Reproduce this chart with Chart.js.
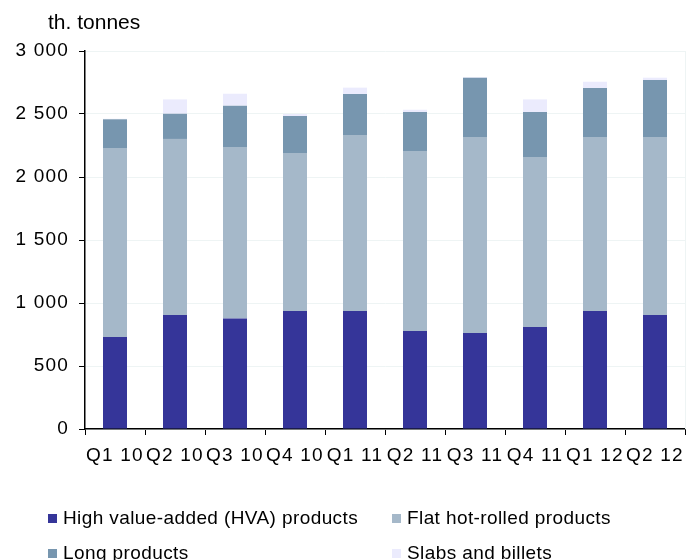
<!DOCTYPE html>
<html>
<head>
<meta charset="utf-8">
<script src="https://cdn.jsdelivr.net/npm/chart.js@4"></script>
<style>
  html, body { margin: 0; padding: 0; background: #fff; }
  #wrap { width: 689px; height: 560px; position: relative; }
</style>
</head>
<body>
<div id="wrap"><canvas id="c" width="689" height="560"></canvas></div>
<script>
const categories = ["Q1 10", "Q2 10", "Q3 10", "Q4 10", "Q1 11", "Q2 11", "Q3 11", "Q4 11", "Q1 12", "Q2 12"];
const hva   = [730, 905, 876, 937, 937, 778, 762, 810, 937, 905];
const flat  = [1500, 1397, 1362, 1253, 1396, 1428, 1555, 1349, 1380, 1412];
const longP = [228, 200, 328, 294, 326, 310, 471, 357, 389, 453];
const slabs = [4, 114, 95, 16, 50, 18, 5, 100, 50, 18];
const seriesNames = ["High value-added (HVA) products", "Flat hot-rolled products", "Long products", "Slabs and billets"];
const seriesColors = ["#353599", "#A5B8C9", "#7796AF", "#EBEBFD"];
const yTicks = [0, 500, 1000, 1500, 2000, 2500, 3000];
const unitLabel = "th. tonnes";

const FONT = "'Liberation Sans', Arial, sans-serif";

const spacingPlugin = {
  id: 'spacing',
  beforeLayout(chart) { chart.ctx.letterSpacing = '1.2px'; },
  afterLayout(chart) { chart.ctx.letterSpacing = '0px'; },
  beforeDraw(chart) { chart.ctx.letterSpacing = '1.2px'; },
  beforeDatasetsDraw(chart) { chart.ctx.letterSpacing = '0px'; }
};

const decorPlugin = {
  id: 'decor',
  afterDraw(chart) {
    const ctx = chart.ctx;
    const a = chart.chartArea;
    ctx.save();
    ctx.letterSpacing = '0px';
    // light plot border on the right
    ctx.strokeStyle = '#EEF4F4';
    ctx.lineWidth = 1;
    ctx.beginPath();
    ctx.moveTo(a.right + 0.5, a.top);
    ctx.lineTo(a.right + 0.5, a.bottom);
    ctx.stroke();
    // unit title
    ctx.fillStyle = '#000';
    ctx.font = "21px " + FONT;
    ctx.textAlign = 'left';
    ctx.textBaseline = 'alphabetic';
    ctx.fillText(unitLabel, 48, 29);
    // legend, two columns
    const pos = [[48, 524], [392, 524], [48, 559], [392, 559]];
    ctx.font = "19px " + FONT;
    ctx.letterSpacing = '0.4px';
    chart.data.datasets.forEach((ds, i) => {
      const [x, y] = pos[i];
      ctx.fillStyle = ds.backgroundColor;
      ctx.fillRect(x, y - 10, 9, 9);
      ctx.fillStyle = '#000';
      ctx.fillText(ds.label, x + 15, y);
    });
    ctx.restore();
  }
};

new Chart(document.getElementById('c'), {
  type: 'bar',
  data: {
    labels: categories,
    datasets: [
      { label: seriesNames[0], data: hva,   backgroundColor: seriesColors[0] },
      { label: seriesNames[1], data: flat,  backgroundColor: seriesColors[1] },
      { label: seriesNames[2], data: longP, backgroundColor: seriesColors[2] },
      { label: seriesNames[3], data: slabs, backgroundColor: seriesColors[3] }
    ]
  },
  options: {
    responsive: false,
    animation: false,
    devicePixelRatio: 1,
    layout: { padding: { left: 0, right: 4, top: 51, bottom: 0 } },
    datasets: { bar: { barPercentage: 0.4, categoryPercentage: 1.0, borderWidth: 0 } },
    plugins: { legend: { display: false }, tooltip: { enabled: false }, title: { display: false } },
    scales: {
      x: {
        stacked: true,
        offset: true,
        grid: { drawOnChartArea: false, drawTicks: true, tickLength: 6, tickColor: '#000', offset: true },
        border: { color: '#000', width: 1.5 },
        ticks: { color: '#000', font: { family: FONT, size: 19 }, padding: 9, maxRotation: 0, autoSkip: false },
        afterFit(scale) { scale.height = 131; scale.paddingLeft = 0; scale.paddingRight = 0; }
      },
      y: {
        stacked: true,
        min: 0, max: 3000,
        afterBuildTicks(scale) { scale.ticks = yTicks.map(v => ({ value: v })); },
        grid: { color: '#EEF4F4', tickColor: '#000', tickLength: 6, drawTicks: true },
        border: { color: '#000', width: 1.5 },
        ticks: {
          color: '#000', font: { family: FONT, size: 19 }, padding: 10,
          callback: v => String(v).replace(/\B(?=(\d{3})+(?!\d))/g, ' ')
        },
        afterFit(scale) { scale.width = 85; scale.paddingTop = 0; scale.paddingBottom = 0; }
      }
    }
  },
  plugins: [spacingPlugin, decorPlugin]
});
</script>
</body>
</html>
